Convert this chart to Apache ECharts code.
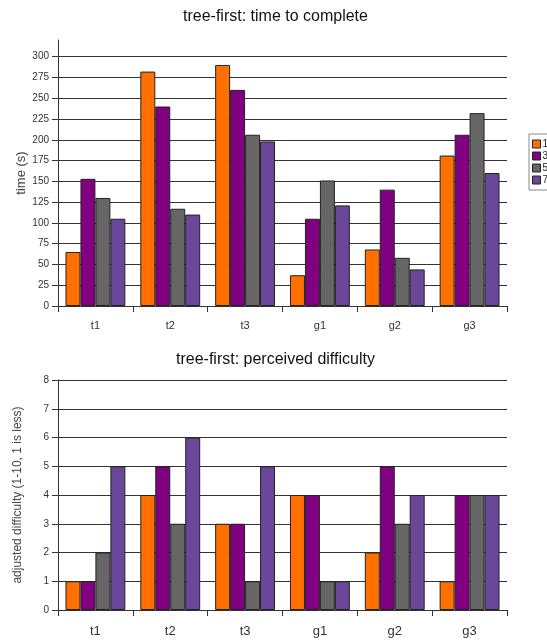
<!DOCTYPE html>
<html>
<head>
<meta charset="utf-8">
<script src="https://cdn.jsdelivr.net/npm/echarts@6/dist/echarts.min.js"></script>
<style>
  html, body { margin: 0; padding: 0; background: #fff; }
  #chart { width: 547px; height: 641px; }
</style>
</head>
<body>
<div id="chart"></div>
<script>
// Task categories shared by both panels
const categories = ['t1', 't2', 't3', 'g1', 'g2', 'g3'];
const seriesNames = ['1', '3', '5', '7'];

// Time to complete (seconds)
const time1 = [65, 282, 290, 37, 68, 181];
const time3 = [153, 240, 260, 105, 140, 206];
const time5 = [130, 117, 206, 151, 58, 232];
const time7 = [105, 110, 198, 121, 44, 160];

// Perceived difficulty (1-10 scale)
const diff1 = [1, 4, 3, 4, 2, 1];
const diff3 = [1, 5, 3, 4, 5, 4];
const diff5 = [2, 3, 1, 1, 3, 4];
const diff7 = [5, 6, 5, 1, 4, 4];

const colors = ['#ff7000', '#800080', '#666666', '#6a4799'];
const font = '"Liberation Sans", Arial, sans-serif';

const chart = echarts.init(document.getElementById('chart'), null, { renderer: 'canvas' });

function xAxisFor(gridIndex, labelSize, labelMargin) {
  return {
    type: 'category',
    gridIndex: gridIndex,
    data: categories,
    axisLine: { lineStyle: { color: '#333', width: 1 } },
    axisTick: { show: true, alignWithLabel: false, length: 6, lineStyle: { color: '#333' } },
    axisLabel: { color: '#333', fontSize: labelSize, fontFamily: font, margin: labelMargin },
    splitLine: { show: false }
  };
}

function yAxisFor(gridIndex, max, interval, name, nameGap, nameSize) {
  return {
    type: 'value',
    gridIndex: gridIndex,
    min: 0,
    max: max,
    interval: interval,
    name: name,
    nameLocation: 'middle',
    nameGap: nameGap,
    nameMoveOverlap: false,
    nameTextStyle: { color: '#444', fontSize: nameSize, fontFamily: font },
    axisLine: { show: true, lineStyle: { color: '#333', width: 1 } },
    axisTick: { show: true, length: 6, lineStyle: { color: '#333' } },
    axisLabel: { color: '#333', fontSize: 10, fontFamily: font, margin: 9, showMaxLabel: gridIndex === 1 },
    splitLine: { show: true, showMaxLine: gridIndex === 1, lineStyle: { color: '#333', width: 1 } }
  };
}

function barsFor(values, idx, axisIndex) {
  return {
    name: seriesNames[idx],
    type: 'bar',
    xAxisIndex: axisIndex,
    yAxisIndex: axisIndex,
    data: values,
    barGap: '0%',
    barCategoryGap: '20%',
    itemStyle: { color: colors[idx], borderColor: '#222', borderWidth: 1 },
    emphasis: { disabled: true },
    animation: false
  };
}

chart.setOption({
  animation: false,
  backgroundColor: '#fff',
  title: [
    {
      text: 'tree-first: time to complete',
      left: 183, top: 9, padding: 0,
      textStyle: { fontSize: 16, fontWeight: 'normal', color: '#111', fontFamily: font }
    },
    {
      text: 'tree-first: perceived difficulty',
      left: 176, top: 352, padding: 0,
      textStyle: { fontSize: 16, fontWeight: 'normal', color: '#111', fontFamily: font }
    }
  ],
  legend: {
    data: seriesNames,
    orient: 'vertical',
    left: 529, top: 134,
    padding: [5, 4, 5, 3],
    itemWidth: 8, itemHeight: 8, itemGap: 2,
    borderColor: '#888', borderWidth: 1,
    textStyle: { fontSize: 10, color: '#222', fontFamily: font, padding: [0, 0, 0, -3] },
    itemStyle: { borderColor: '#222', borderWidth: 1 },
    icon: 'rect'
  },
  grid: [
    { left: 58, right: 40, top: 40, bottom: 335, containLabel: false },
    { left: 58, right: 40, top: 380, bottom: 31, containLabel: false }
  ],
  xAxis: [xAxisFor(0, 11, 14), xAxisFor(1, 13, 15)],
  yAxis: [
    yAxisFor(0, 320, 25, 'time (s)', 30, 13),
    yAxisFor(1, 8, 1, 'adjusted difficulty (1-10, 1 is less)', 34, 12)
  ],
  series: [
    barsFor(time1, 0, 0), barsFor(time3, 1, 0), barsFor(time5, 2, 0), barsFor(time7, 3, 0),
    barsFor(diff1, 0, 1), barsFor(diff3, 1, 1), barsFor(diff5, 2, 1), barsFor(diff7, 3, 1)
  ]
});
</script>
</body>
</html>
